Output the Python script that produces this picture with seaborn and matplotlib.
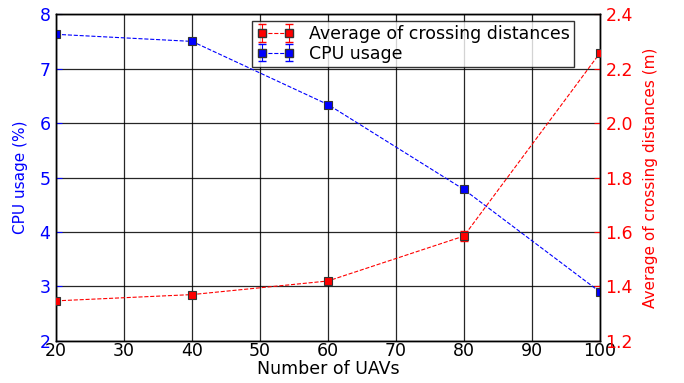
import numpy as np
import pandas as pd
import matplotlib
matplotlib.use("Agg")
import matplotlib.pyplot as plt
import seaborn as sns

uavs = [20, 40, 60, 80, 100]
cpu_usage = [7.63, 7.50, 6.34, 4.78, 2.90]
cpu_err = [0.03, 0.03, 0.03, 0.03, 0.03]
crossing_dist = [1.347, 1.37, 1.42, 1.585, 2.257]
crossing_err = [0.005, 0.005, 0.006, 0.02, 0.006]

sns.set_style("white")
plt.rcParams['font.family'] = ['DejaVu Sans']
plt.rcParams['text.color'] = 'black'

fig = plt.figure(figsize=(6.84, 3.83), dpi=100)
ax = fig.add_axes([0.082, 0.110, 0.795, 0.853])
ax2 = ax.twinx()

blue = "#0000ff"
red = "#ff0000"

df = pd.DataFrame({"uavs": uavs, "cpu": cpu_usage, "dist": crossing_dist})

sns.lineplot(data=df, x="uavs", y="cpu", ax=ax, color=blue, linestyle="--",
             linewidth=0.8, marker="s", markersize=6, markeredgecolor="#333333",
             markeredgewidth=0.8, legend=False, zorder=5)
ax.errorbar(uavs, cpu_usage, yerr=cpu_err, fmt="none", ecolor=blue,
            elinewidth=0.8, capsize=3, zorder=4)

sns.lineplot(data=df, x="uavs", y="dist", ax=ax2, color=red, linestyle="--",
             linewidth=0.8, marker="s", markersize=6, markeredgecolor="#333333",
             markeredgewidth=0.8, legend=False, zorder=5)
ax2.errorbar(uavs, crossing_dist, yerr=crossing_err, fmt="none", ecolor=red,
             elinewidth=0.8, capsize=3, zorder=4)

# legend proxies
h1 = ax2.errorbar([np.nan], [np.nan], yerr=[0.1], fmt="s--", color=red,
                  markeredgecolor="#333333", markersize=6, linewidth=0.8,
                  capsize=3, label="Average of crossing distances")
h2 = ax2.errorbar([np.nan], [np.nan], yerr=[0.1], fmt="s--", color=blue,
                  markeredgecolor="#333333", markersize=6, linewidth=0.8,
                  capsize=3, label="CPU usage")

ax.set_xlim(20, 100)
ax.set_ylim(2, 8)
ax2.set_ylim(1.2, 2.4)
ax.set_xticks(range(20, 101, 10))
ax.set_yticks(range(2, 9))
ax2.set_yticks([1.2, 1.4, 1.6, 1.8, 2.0, 2.2, 2.4])
ax2.set_yticklabels(["1.2", "1.4", "1.6", "1.8", "2.0", "2.2", "2.4"])

ax.grid(True, color="black", linewidth=0.9, alpha=0.85)
ax.set_axisbelow(True)

ax.set_xlabel("Number of UAVs", fontsize=12.5, color="black", labelpad=0)
ax.set_ylabel("CPU usage (%)", fontsize=11, color=blue, labelpad=8)
ax2.set_ylabel("Average of crossing distances (m)", fontsize=11, color=red, labelpad=7)

ax.tick_params(axis="x", labelsize=12.5, colors="black", direction="in", length=4, pad=1)
ax.tick_params(axis="y", labelsize=12.5, colors=blue, direction="in", length=4, pad=4)
ax2.tick_params(axis="y", labelsize=12.5, colors=red, direction="in", length=4, pad=4)

for a in (ax, ax2):
    for s in a.spines.values():
        s.set_color("black")
        s.set_linewidth(1.0)

leg = ax2.legend(handles=[h1, h2], loc="upper right", bbox_to_anchor=(0.952, 0.98),
                 fontsize=12.5, numpoints=2, frameon=True, fancybox=False,
                 borderpad=0.25, labelspacing=0.1, handlelength=2.2,
                 handletextpad=0.8, borderaxespad=0.0, labelcolor="black")
leg.get_frame().set_edgecolor("black")
leg.get_frame().set_linewidth(1.0)

fig.savefig("out.png", dpi=100)
